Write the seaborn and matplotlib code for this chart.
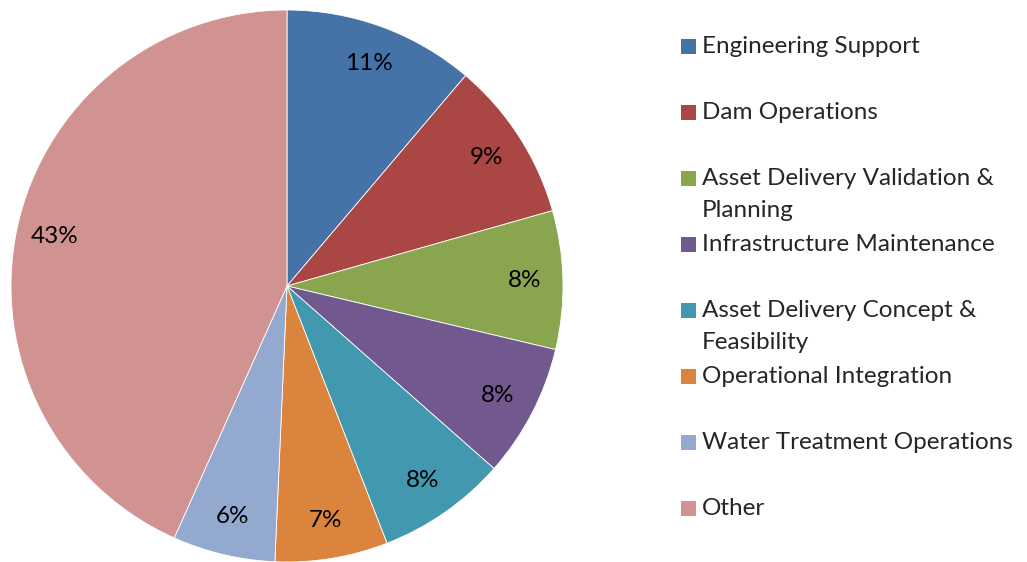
import matplotlib
matplotlib.use('Agg')
import matplotlib.pyplot as plt
import seaborn as sns
from matplotlib.patches import Rectangle

sns.set_style('white')
plt.rcParams['font.family'] = ['Lato', 'DejaVu Sans']

# data (share of total, %)
categories = ['Engineering Support', 'Dam Operations',
              'Asset Delivery Validation &\nPlanning', 'Infrastructure Maintenance',
              'Asset Delivery Concept &\nFeasibility', 'Operational Integration',
              'Water Treatment Operations', 'Other']
shares = [11.2, 9.4, 8.1, 7.8, 7.6, 6.6, 6.0, 43.3]
colors = ['#4572A7', '#AA4643', '#89A54E', '#71588F',
          '#4198AF', '#DB843D', '#93A9CF', '#D19392']

fig = plt.figure(figsize=(10.27, 5.62), dpi=100)
W, H = 1027, 562
cx, cy, r = 287, 286, 276
ax = fig.add_axes([(cx - r) / W, (H - cy - r) / H, 2 * r / W, 2 * r / H])

wedges, texts, autotexts = ax.pie(
    shares, colors=colors, startangle=90, counterclock=False,
    autopct='%.0f%%', pctdistance=0.86,
    wedgeprops=dict(edgecolor='white', linewidth=0.6),
    textprops=dict(fontsize=17.5, color='black'))
ax.set_aspect('equal')
ax.set_xlim(-1, 1)
ax.set_ylim(-1, 1)
ax.axis('off')

# legend drawn by hand so wrapped entries keep even spacing
y0, step = 46, 66
for i, (lab, col) in enumerate(zip(categories, colors)):
    y = y0 + i * step
    fig.patches.append(Rectangle((681 / W, 1 - (y + 7.5) / H), 15 / W, 15 / H,
                                 facecolor=col, edgecolor='none',
                                 transform=fig.transFigure))
    fig.text(702 / W, 1 - (y - 10) / H, lab, fontsize=17.5, va='top', ha='left',
             linespacing=1.65)

plt.savefig('out.png', dpi=100)
